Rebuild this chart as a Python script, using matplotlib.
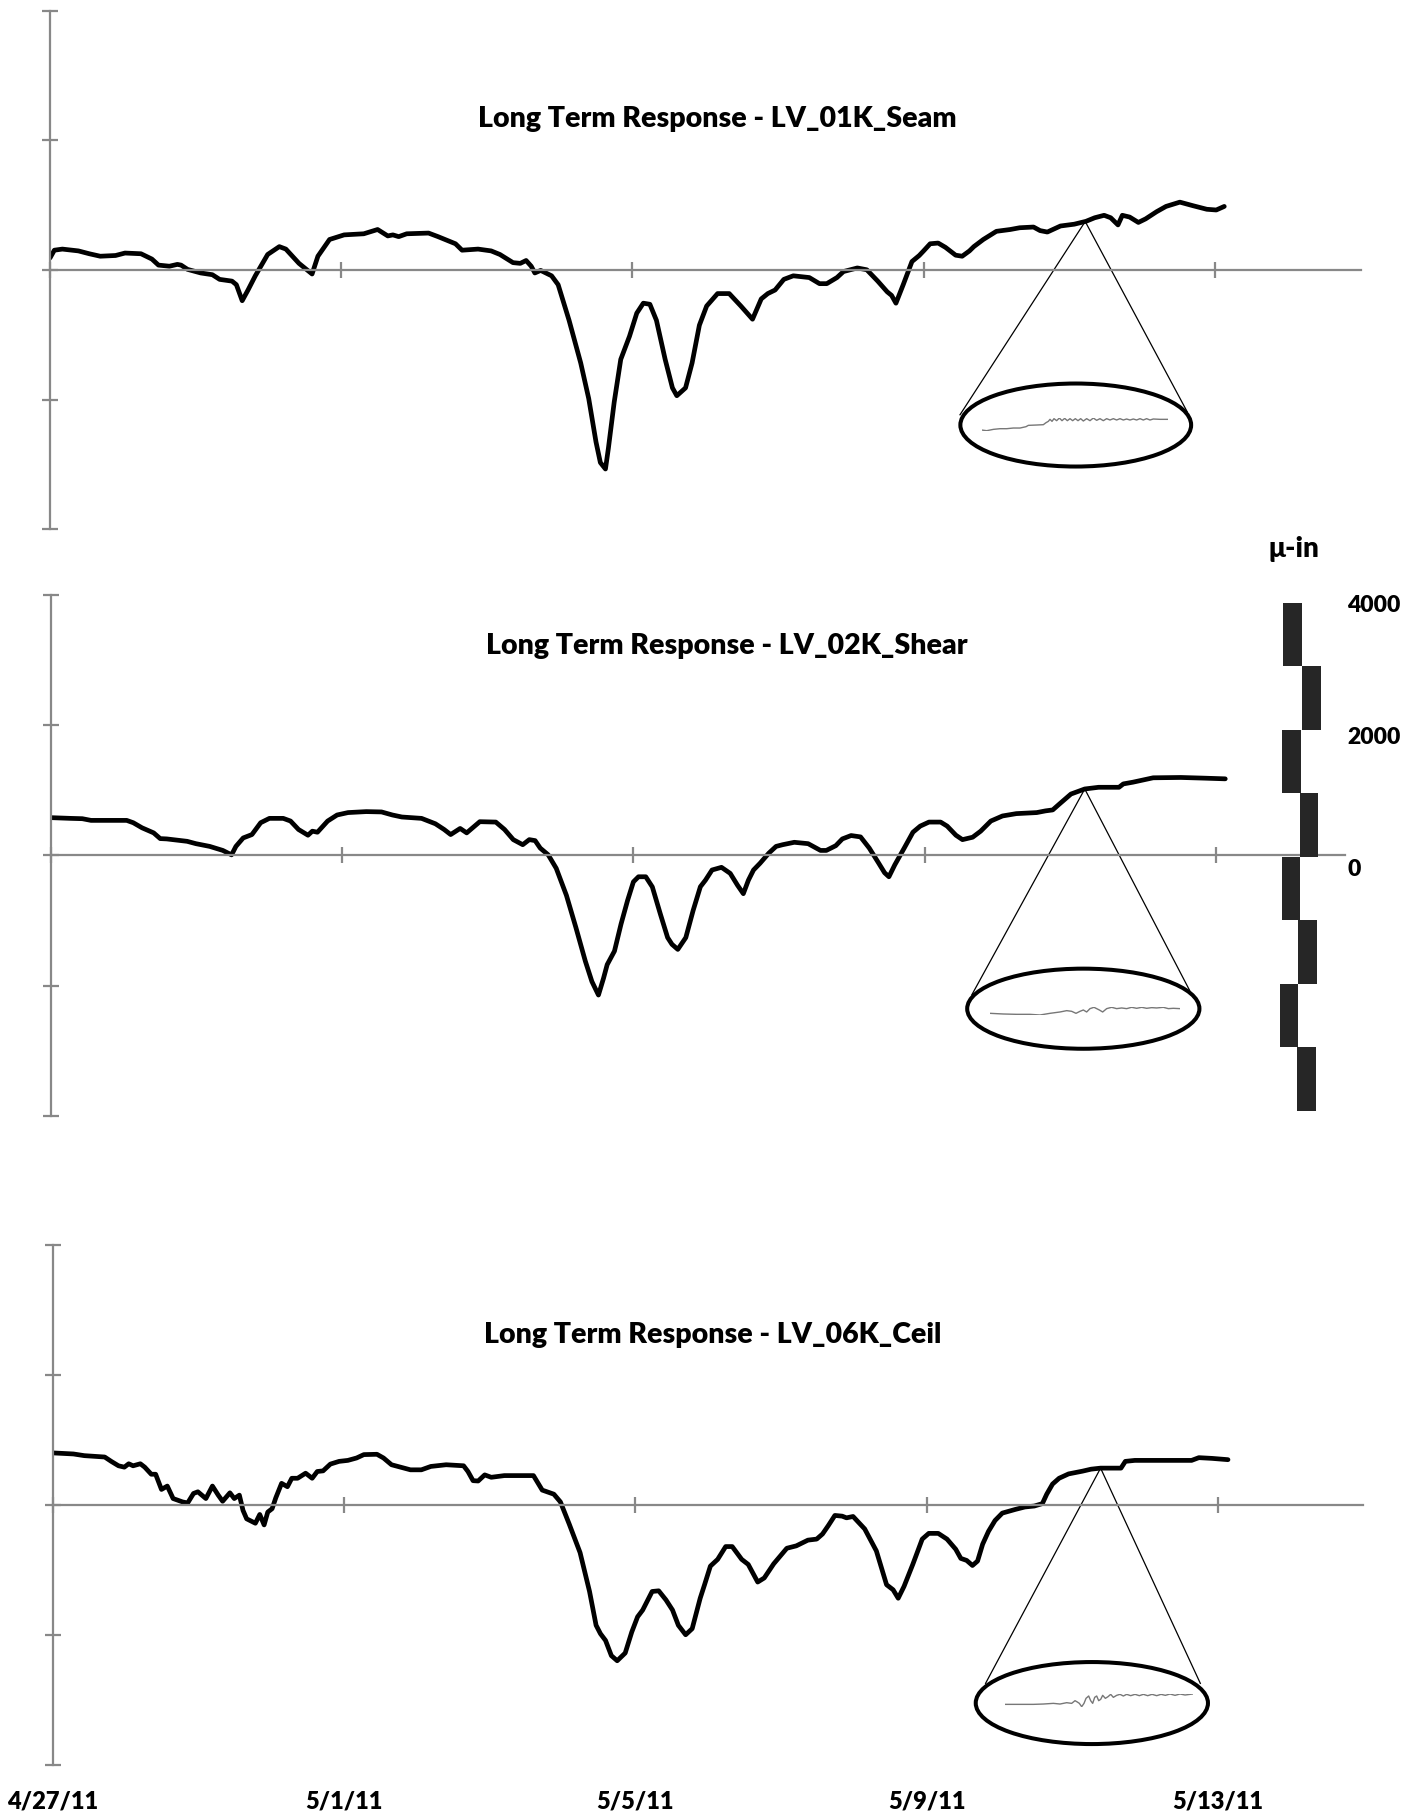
import numpy as np
import matplotlib.pyplot as plt
from matplotlib.patches import Ellipse, Rectangle

plt.rcParams['font.family'] = ['Lato', 'DejaVu Sans']

# ---- data (days since 4/27/11, micro-inch) ----
titles = ['Long Term Response - LV_01K_Seam',
          'Long Term Response - LV_02K_Shear',
          'Long Term Response - LV_06K_Ceil']

seam_days = [0, 0.06, 0.17, 0.39, 0.54, 0.69, 0.90, 1.03, 1.25, 1.40,
             1.49, 1.64, 1.75, 1.80, 1.89, 2.07, 2.23, 2.33, 2.50, 2.56,
             2.64, 2.72, 2.82, 2.99, 3.15, 3.24, 3.42, 3.60, 3.68, 3.84,
             4.04, 4.31, 4.50, 4.64, 4.71, 4.79, 4.90, 5.20, 5.33, 5.57,
             5.66, 5.88, 6.06, 6.18, 6.36, 6.46, 6.54, 6.61, 6.66, 6.74,
             6.89, 6.98, 7.13, 7.29, 7.40, 7.50, 7.56, 7.63, 7.67, 7.75,
             7.84, 7.96, 8.06, 8.15, 8.24, 8.33, 8.45, 8.55, 8.61, 8.73,
             8.82, 8.92, 9.02, 9.17, 9.33, 9.49, 9.65, 9.77, 9.86, 9.96,
             10.08, 10.21, 10.43, 10.57, 10.67, 10.81, 10.90, 11.09, 11.22, 11.37,
             11.50, 11.56, 11.62, 11.72, 11.84, 11.94, 12.00, 12.09, 12.20, 12.30,
             12.44, 12.53, 12.63, 12.69, 12.82, 13.00, 13.19, 13.32, 13.51, 13.60,
             13.70, 13.88, 14.07, 14.23, 14.35, 14.48, 14.57, 14.67, 14.73, 14.83,
             14.95, 15.05, 15.20, 15.33, 15.52, 15.70, 15.89, 16.02, 16.13]
seam_vals = [187, 307, 324, 296, 252, 214, 225, 263, 252, 170,
             77, 60, 88, 77, 11, -44, -71, -143, -170, -225,
             -472, -307, -88, 241, 362, 324, 104, -60, 214, 472,
             543, 560, 626, 527, 543, 516, 560, 571, 516, 406,
             307, 324, 296, 241, 115, 104, 148, 60, -44, -5,
             -88, -225, -774, -1432, -1981, -2650, -2968, -3067, -2749, -2036,
             -1377, -1021, -664, -510, -527, -774, -1377, -1816, -1937, -1816,
             -1432, -850, -554, -362, -362, -554, -757, -444, -362, -307,
             -143, -88, -115, -209, -209, -115, -22, 33, 5, -170,
             -335, -390, -510, -225, 132, 225, 296, 406, 417, 351,
             230, 214, 296, 362, 472, 598, 626, 653, 664, 609,
             587, 680, 708, 752, 807, 845, 807, 697, 845, 818,
             735, 790, 900, 982, 1048, 993, 938, 927, 982]

shear_days = [0, 0.27, 0.43, 0.55, 0.76, 1.04, 1.13, 1.25, 1.41, 1.50,
              1.59, 1.87, 1.99, 2.18, 2.36, 2.48, 2.54, 2.64, 2.76, 2.88,
              3.00, 3.19, 3.29, 3.40, 3.53, 3.59, 3.66, 3.80, 3.93, 4.08,
              4.33, 4.54, 4.69, 4.82, 5.09, 5.28, 5.40, 5.49, 5.62, 5.71,
              5.89, 6.11, 6.23, 6.35, 6.48, 6.57, 6.65, 6.72, 6.83, 6.94,
              7.08, 7.21, 7.34, 7.43, 7.52, 7.59, 7.64, 7.74, 7.83, 7.92,
              8.00, 8.07, 8.17, 8.26, 8.37, 8.47, 8.53, 8.61, 8.72, 8.82,
              8.92, 8.99, 9.08, 9.21, 9.33, 9.43, 9.51, 9.58, 9.65, 9.74,
              9.86, 9.96, 10.05, 10.21, 10.40, 10.57, 10.65, 10.78, 10.87, 10.99,
              11.12, 11.24, 11.37, 11.45, 11.51, 11.59, 11.72, 11.84, 11.94, 12.06,
              12.22, 12.31, 12.43, 12.52, 12.66, 12.77, 12.91, 13.07, 13.26, 13.54,
              13.66, 13.76, 13.85, 14.01, 14.20, 14.39, 14.67, 14.73, 14.86, 15.14,
              15.52, 15.83, 16.13]
shear_vals = [582, 571, 566, 540, 540, 540, 504, 426, 348, 260,
              255, 218, 182, 140, 78, 10, 140, 270, 322, 504,
              571, 571, 530, 400, 312, 374, 358, 530, 623, 660,
              675, 670, 623, 592, 571, 488, 400, 322, 416, 348,
              520, 514, 400, 244, 166, 244, 229, 114, 10, -197,
              -613, -1107, -1626, -1938, -2146, -1886, -1678, -1470, -1055, -691,
              -405, -327, -327, -483, -899, -1262, -1366, -1444, -1262, -847,
              -480, -379, -223, -182, -275, -457, -587, -379, -223, -119,
              36, 140, 166, 203, 182, 78, 78, 151, 255, 307,
              286, 114, -119, -265, -327, -145, 114, 358, 452, 514,
              514, 452, 312, 244, 281, 374, 530, 608, 644, 660,
              686, 701, 790, 945, 1023, 1049, 1049, 1101, 1127, 1195,
              1200, 1190, 1179]

ceil_days = [0, 0.28, 0.43, 0.71, 0.80, 0.90, 0.98, 1.04, 1.10, 1.20,
             1.26, 1.35, 1.41, 1.49, 1.57, 1.65, 1.78, 1.85, 1.93, 1.99,
             2.10, 2.19, 2.27, 2.33, 2.43, 2.49, 2.56, 2.61, 2.66, 2.78,
             2.84, 2.90, 2.95, 3.01, 3.06, 3.14, 3.22, 3.28, 3.36, 3.47,
             3.56, 3.63, 3.71, 3.81, 3.93, 4.05, 4.17, 4.27, 4.45, 4.54,
             4.65, 4.79, 4.91, 5.06, 5.19, 5.40, 5.64, 5.70, 5.77, 5.84,
             5.93, 6.02, 6.20, 6.60, 6.72, 6.88, 6.97, 7.09, 7.24, 7.37,
             7.46, 7.52, 7.59, 7.67, 7.75, 7.86, 7.95, 8.03, 8.10, 8.23,
             8.32, 8.42, 8.51, 8.59, 8.69, 8.78, 8.89,
             8.95, 9.03, 9.13, 9.24, 9.33, 9.46, 9.55, 9.68, 9.77, 9.90,
             10.08, 10.21, 10.37, 10.49, 10.57, 10.65, 10.74, 10.84, 10.90, 10.99,
             11.15, 11.31, 11.45, 11.54, 11.61, 11.69, 11.81, 11.94, 12.03, 12.16,
             12.28, 12.40, 12.47, 12.55, 12.63, 12.70, 12.77, 12.85, 12.94, 13.04,
             13.22, 13.35, 13.48, 13.59, 13.65, 13.73, 13.82, 13.95, 14.14, 14.26,
             14.39, 14.67, 14.73, 14.86, 15.17, 15.64, 15.74, 15.92, 16.14]
ceil_vals = [796, 780, 754, 733, 666, 598, 577, 629, 598, 629,
             577, 468, 468, 234, 286, 94, 42, 26, 172, 198,
             94, 286, 146, 52, 182, 94, 146, -88, -218, -286,
             -151, -312, -114, -62, 104, 328, 276, 406, 406, 484,
             406, 510, 520, 624, 666, 681, 718, 770, 775, 718,
             614, 572, 536, 536, 588, 614, 598, 510, 369, 364,
             458, 421, 447, 447, 224, 161, 42, -296, -738, -1336,
             -1856, -1986, -2090, -2324, -2402, -2283, -1960, -1726, -1622, -1336,
             -1326, -1466, -1622, -1856, -2002, -1908, -1440,
             -1232, -946, -842, -645, -645, -842, -920, -1191, -1128, -910,
             -671, -634, -546, -530, -452, -322, -166, -177, -203, -182,
             -374, -712, -1232, -1310, -1440, -1258, -920, -530, -442, -442,
             -530, -686, -827, -858, -936, -868, -608, -411, -244, -130,
             -73, -36, -21, 16, 161, 317, 406, 473, 515, 546,
             562, 562, 666, 681, 681, 681, 723, 712, 692]

# magnified traces inside the ellipses (relative units)
zoom1_t = [0, 15, 35, 55, 75, 95, 115, 133, 140, 165, 185, 193, 200, 205, 211, 217, 225, 233, 241, 249,
           257, 265, 273, 281, 289, 297, 305, 315, 325, 335, 345, 355, 365, 375, 385, 395, 405, 415, 425, 435,
           445, 455, 465, 475, 485, 495, 505, 515, 535, 560]
zoom1_v = [0, -2, 2, 4, 4, 6, 6, 10, 14, 15, 16, 22, 26, 32, 26, 34, 28, 36, 28, 35,
           28, 34, 28, 34, 28, 34, 27, 34, 28, 36, 29, 34, 28, 34, 30, 34, 30, 34, 30, 33,
           30, 33, 30, 34, 30, 34, 30, 33, 32, 32]
zoom2_t = [0, 40, 80, 120, 150, 180, 210, 230, 245, 258, 270, 280, 290, 300, 312, 320, 328, 338, 350, 365,
           380, 395, 410, 425, 440, 455, 470, 485, 500, 520, 535, 550, 570]
zoom2_v = [5, 3, 2, 2, 0, 5, 9, 13, 11, 5, 11, 15, 9, 19, 23, 19, 15, 9, 19, 23,
           19, 21, 19, 23, 20, 23, 20, 22, 21, 23, 19, 20, 19]
zoom3_t = [0, 45, 85, 115, 145, 165, 185, 200, 210, 217, 223, 230, 237, 243, 251, 257, 263, 269, 275, 281,
           287, 293, 301, 309, 317, 325, 335, 345, 355, 365, 377, 390, 403, 415, 428, 441, 455, 468, 481, 495,
           510, 525, 540, 563]
zoom3_v = [7, 7, 7, 8, 10, 8, 12, 10, 18, 14, 10, 0, 10, 25, 32, 18, 10, 28, 32, 18,
           22, 34, 25, 30, 37, 28, 34, 37, 32, 37, 33, 37, 33, 37, 33, 37, 33, 37, 34, 38,
           34, 38, 35, 38]

date_ticks = [0, 4, 8, 12, 16]
date_labels = ['4/27/11', '5/1/11', '5/5/11', '5/9/11', '5/13/11']
y_ticks = [-4000, -2000, 0, 2000, 4000]
scale_levels = [4000, 3000, 2000, 1000, 0, -1000, -2000, -3000, -4000]
scale_labels = ['4000', '2000', '0']

# ---- layout (pixels of the 1417x1818 canvas) ----
W, H = 1417, 1818
PX_PER_DAY = 72.8
panel_boxes = [(50, 10.7, 1361, 529.5), (51, 595.4, 1345, 1115.6), (53, 1244.7, 1363, 1764.6)]
title_pos = [(717, 119), (727, 646), (713, 1335)]
ellipses = [(14.09, -2389, 3.17, 1280), (14.18, -2356, 3.19, 1232), (14.27, -3053, 3.19, 1262)]
cone_ends = [((12.50, -2231), (15.62, -2183)),
             ((12.65, -2140), (15.64, -2074)),
             ((12.81, -2750), (15.76, -2750))]
apex_days = [14.22, 14.20, 14.39]
zoom_boxes = [(981.7, 418, 1168.3, 430.7), (990, 1007.3, 1180, 1015), (1005, 1694, 1192.7, 1706.7)]

GRAY = '#888888'


def frac(x0, y_top, x1, y_bot):
    return [x0 / W, 1 - y_bot / H, (x1 - x0) / W, (y_bot - y_top) / H]


fig = plt.figure(figsize=(W / 100, H / 100), dpi=100)

series = [(seam_days, seam_vals), (shear_days, shear_vals), (ceil_days, ceil_vals)]
zooms = [(zoom1_t, zoom1_v), (zoom2_t, zoom2_v), (zoom3_t, zoom3_v)]
axes = []
for i, (days, vals) in enumerate(series):
    x0, yt, x1, yb = panel_boxes[i]
    ax = fig.add_axes(frac(x0, yt, x1, yb))
    axes.append(ax)
    ax.set_xlim(0, (x1 - x0) / PX_PER_DAY)
    ax.set_ylim(-4000, 4000)
    for s in ['top', 'right']:
        ax.spines[s].set_visible(False)
    ax.spines['bottom'].set_position(('data', 0))
    for s in ['left', 'bottom']:
        ax.spines[s].set_color(GRAY)
        ax.spines[s].set_linewidth(1.6)
    ax.set_xticks(date_ticks)
    ax.set_yticks(y_ticks)
    ax.set_xticklabels([])
    ax.set_yticklabels([])
    ax.tick_params(direction='inout', length=11, width=1.6, color=GRAY)
    ax.patch.set_alpha(0)

    ax.plot(days, vals, color='black', lw=3.4, solid_joinstyle='round', solid_capstyle='round')

    # magnifier: cone + ellipse
    apex_v = np.interp(apex_days[i], days, vals)
    (lx, ly), (rx, ry) = cone_ends[i]
    ax.plot([lx, apex_days[i], rx], [ly, apex_v, ry], color='black', lw=0.9)
    cx, cy, ew, eh = ellipses[i]
    ax.add_patch(Ellipse((cx, cy), ew, eh, fill=False, ec='black', lw=2.9))

    tx, ty, tx1, ty1 = zoom_boxes[i]
    zax = fig.add_axes(frac(tx, ty, tx1, ty1))
    zt, zv = zooms[i]
    zax.plot(zt, zv, color='#777777', lw=1.0)
    zax.set_xlim(min(zt), max(zt))
    zax.set_ylim(min(zv), max(zv))
    zax.axis('off')

    fig.text(title_pos[i][0] / W, 1 - title_pos[i][1] / H, titles[i],
             ha='center', va='center', fontsize=20.5, fontweight='heavy')

# date labels under the bottom panel
ax3 = axes[2]
x0, yt, x1, yb = panel_boxes[2]
label_y = (yb - 1802) / (yb - yt)
for d, lab in zip(date_ticks, date_labels):
    ax3.text(d, label_y, lab, transform=ax3.get_xaxis_transform(), ha='center', va='center',
             fontsize=17, fontweight='heavy')

# scale bar
sb = fig.add_axes(frac(1270, 602.5, 1330, 1110.6))
sb.set_xlim(1270, 1330)
sb.set_ylim(-4000, 4000)
sb.axis('off')
block_left = [1283, 1302, 1282, 1299.5, 1281.5, 1298, 1279.5, 1297]
for k in range(len(scale_levels) - 1):
    top, bot = scale_levels[k], scale_levels[k + 1]
    sb.add_patch(Rectangle((block_left[k], bot), 18.5, top - bot, color='#262626', lw=0))

label_px = [605, 737, 869]
for lab, yp in zip(scale_labels, label_px):
    fig.text(1347 / W, 1 - yp / H, lab, ha='left', va='center', fontsize=16.5, fontweight='heavy')
fig.text(1294 / W, 1 - 549 / H, 'μ-in', ha='center', va='center', fontsize=20, fontweight='heavy')

fig.savefig('out.png', dpi=100)
